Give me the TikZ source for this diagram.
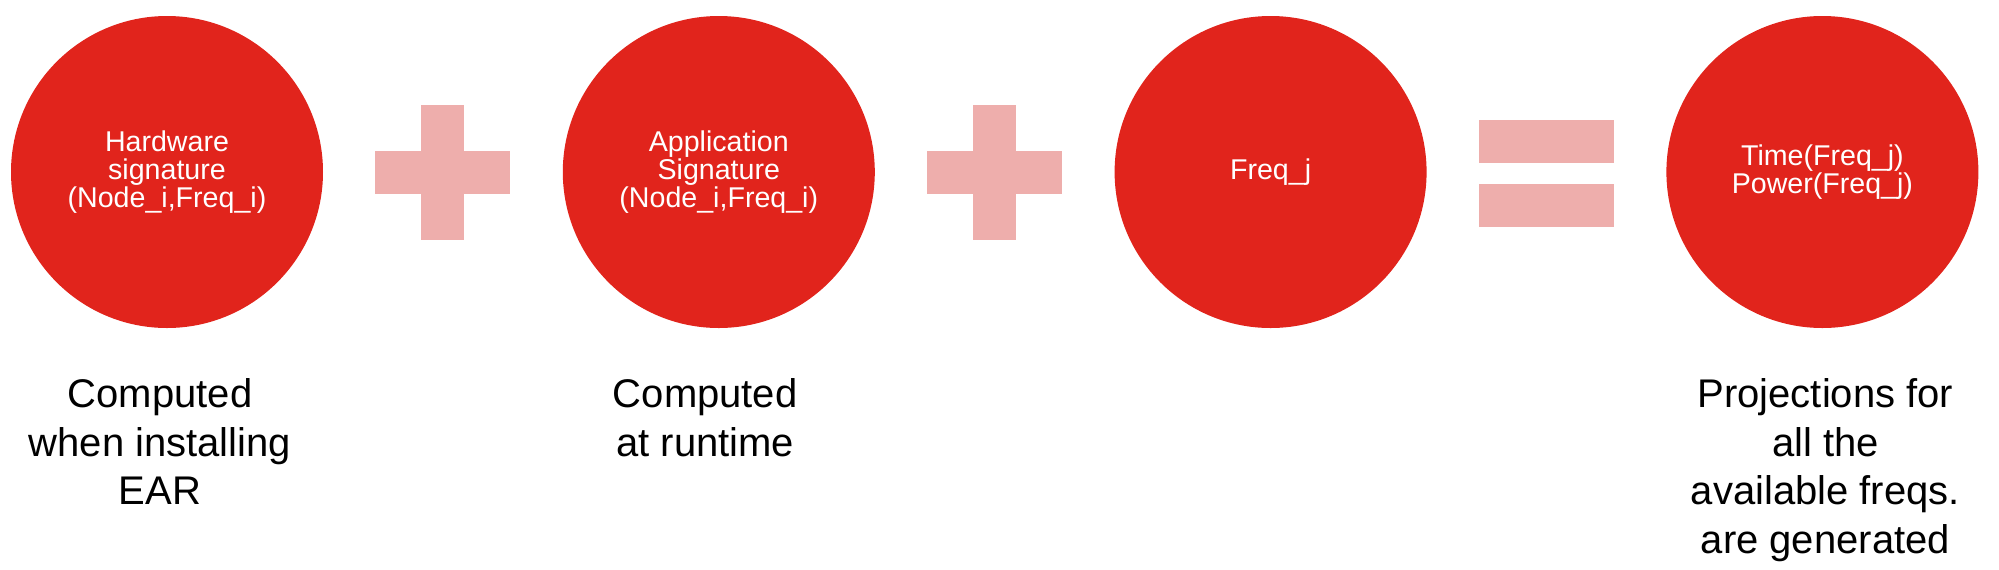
\documentclass[tikz,border=0pt]{standalone}
\usepackage{fontspec}
\setmainfont{Liberation Sans}
\usepackage{tikz}
\usetikzlibrary{positioning, calc}
\definecolor{sigred}{HTML}{E1241C}
\definecolor{oppink}{HTML}{EEAEAC}

\begin{document}
\begin{tikzpicture}[
  sig/.style={circle, fill=sigred, text=white, minimum size=156pt, inner sep=2pt,
              outer sep=0pt, align=center, font=\fontsize{14.3}{14.2}\selectfont},
  bar/.style={rectangle, fill=oppink, inner sep=0pt, outer sep=0pt},
  hbar/.style={bar, minimum width=67.5pt, minimum height=21.5pt},
  vbar/.style={bar, minimum width=21.5pt, minimum height=67.5pt},
  note/.style={align=center, inner sep=0pt, font=\fontsize{20}{24.35}\selectfont}
]
  \useasboundingbox (0,0) rectangle (999.5pt,-284.5pt);

  % signatures
  \node[sig] (hw)   at (83.5pt,-86pt)         {Hardware\\signature\\(Node\_i,Freq\_i)};
  \node[sig] (app)  [right=119.9pt of hw]     {Application\\Signature\\(Node\_i,Freq\_i)};
  \node[sig] (freq) [right=119.9pt of app]    {Freq\_j};
  \node[sig] (proj) [right=119.9pt of freq]   {Time(Freq\_j)\\Power(Freq\_j)};

  % operators
  \node[hbar] (plusa)  at ($(hw)!0.5!(app)$)    {};
  \node[vbar] (plusav) at (plusa)               {};
  \node[hbar] (plusb)  at ($(app)!0.5!(freq)$)  {};
  \node[vbar] (plusbv) at (plusb)               {};
  \node[hbar] (eqtop)  at ($($(freq)!0.5!(proj)$)+(0,15.5pt)$) {};
  \node[hbar] (eqbot)  at ($($(freq)!0.5!(proj)$)+(0,-16.8pt)$) {};

  % notes
  \node[note, anchor=north] (hwnote)   [below=25pt of hw, xshift=-3.5pt]  {Computed\\when installing\\EAR};
  \node[note, anchor=north] (appnote)  [below=25pt of app, xshift=-6.8pt] {Computed\\at runtime};
  \node[note, anchor=north] (projnote) [below=25pt of proj, xshift=1.5pt] {Projections for\\all the\\available freqs.\\are generated};
\end{tikzpicture}
\end{document}
